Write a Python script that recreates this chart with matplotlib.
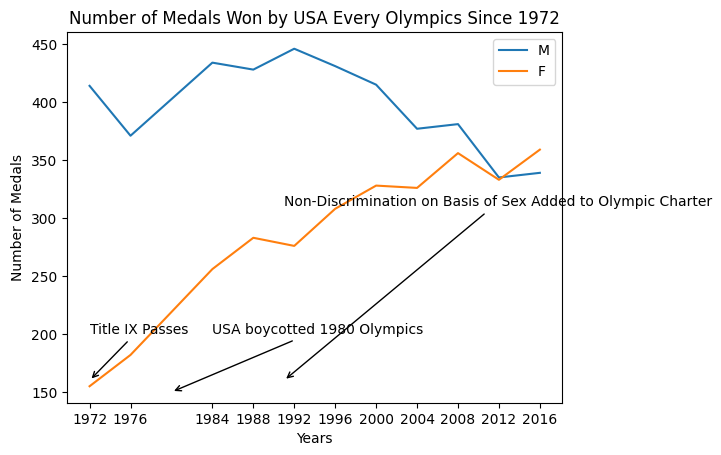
import matplotlib
matplotlib.use("Agg")
import matplotlib.pyplot as plt

years = [1972, 1976, 1984, 1988, 1992, 1996, 2000, 2004, 2008, 2012, 2016]
male = [414, 371, 434, 428, 446, 431, 415, 377, 381, 335, 339]
female = [155, 182, 256, 283, 276, 308, 328, 326, 356, 333, 359]

fig = plt.figure(figsize=(7.21, 4.55), dpi=100)
ax = fig.add_axes([0.093, 0.114, 0.687, 0.816])

ax.plot(years, male, label="M")
ax.plot(years, female, label="F")

ax.annotate("Title IX Passes", xy=(1972, 160), xytext=(1972, 200),
            arrowprops=dict(arrowstyle="->"))
ax.annotate("USA boycotted 1980 Olympics", xy=(1980, 150), xytext=(1984, 200),
            arrowprops=dict(arrowstyle="->"))
ax.annotate("Non-Discrimination on Basis of Sex Added to Olympic Charter",
            xy=(1991, 160), xytext=(1991, 310),
            arrowprops=dict(arrowstyle="->"))

ax.set_xticks(years)
ax.set_title("Number of Medals Won by USA Every Olympics Since 1972")
ax.set_xlabel("Years")
ax.set_ylabel("Number of Medals")
ax.legend()

fig.savefig("out.png", dpi=100)
